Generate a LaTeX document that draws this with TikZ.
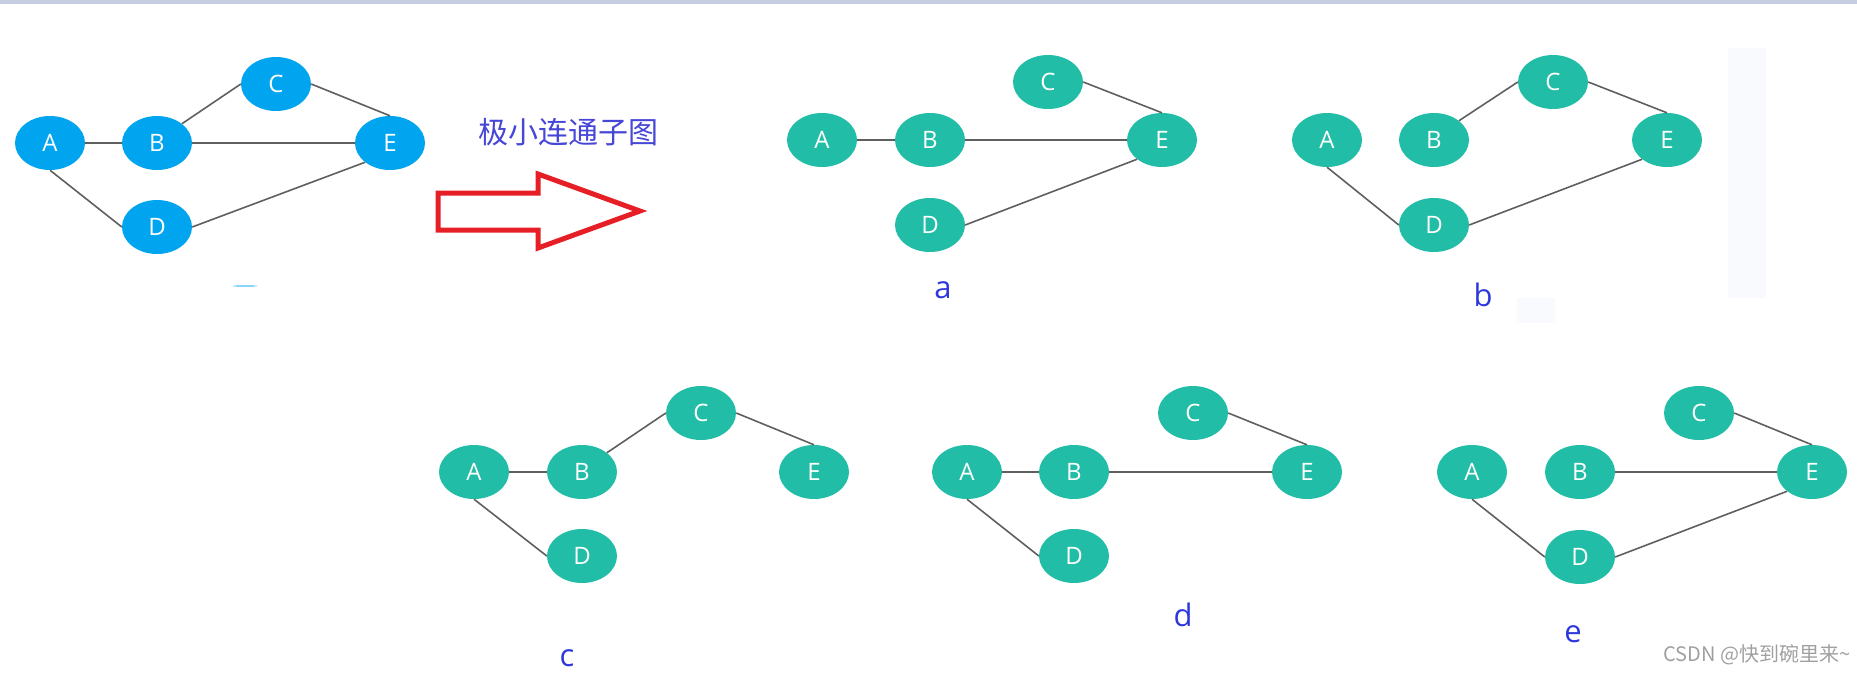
\documentclass[tikz,border=0pt]{standalone}
\usepackage{fontspec}
\setmainfont{Open Sans}
\newfontfamily\cjk{Noto Sans CJK SC}
\usetikzlibrary{shapes.geometric}

\begin{document}
\begin{tikzpicture}[x=1pt,y=-1pt,
    	 blue node/.style={ellipse,fill=skyblue,minimum width=70pt,minimum height=54pt,inner sep=0pt,text=white,font=\fontsize{24}{24}\selectfont},
    	 green node/.style={blue node,fill=tealgreen},
    	 sub label/.style={anchor=base,text=labelblue,font=\fontsize{31}{31}\selectfont},
    	 every edge/.style={draw=linegray,line width=1.6pt}]

	\definecolor{skyblue}{RGB}{0,164,239}
	\definecolor{tealgreen}{RGB}{34,189,166}
	\definecolor{linegray}{RGB}{95,95,95}
	\definecolor{labelblue}{RGB}{45,55,220}
	\definecolor{titleblue}{RGB}{70,70,215}
	\definecolor{arrowred}{RGB}{230,30,38}
	\definecolor{bandgray}{RGB}{196,206,224}
	\definecolor{palebg}{RGB}{248,250,253}
	\definecolor{markgray}{RGB}{160,160,160}

	\useasboundingbox (0,0) rectangle (1857,672);
	\fill[bandgray] (0,0) rectangle (1857,4);
	\fill[palebg] (1728,48) rectangle (1766,298);
	\fill[palebg] (1517,298) rectangle (1555,323);
	\fill[skyblue!70] (245,286) ellipse (12.5 and 0.7);

	% original graph
  	\draw (50,143)  node[blue node] (A) {A};
	\draw (157,143) node[blue node] (B) {B};
	\draw (276,84)  node[blue node] (C) {C};
	\draw (390,143) node[blue node] (E) {E};
	\draw (157,227) node[blue node] (D) {D};

	\path (A) edge (B)
	      (B) edge (E)
	      (B.north east) edge (C.west)
	      (C.east) edge (E.north)
	      (A.south) edge (D.west)
	      (D.east) edge (E.south west);

	\node[text=titleblue,font=\cjk\fontsize{30}{30}\selectfont] (title) at (568,132) {极小连通子图};
	\draw[arrowred,line width=5pt,line join=miter] (438,193) -- (538,193) -- (538,174) -- (640,211)
	    -- (538,248) -- (538,230) -- (438,230) -- cycle;

	% a
	\draw (822,140)  node[green node] (aA) {A};
	\draw (930,140)  node[green node] (aB) {B};
	\draw (1048,82)  node[green node] (aC) {C};
	\draw (1162,140) node[green node] (aE) {E};
	\draw (930,225)  node[green node] (aD) {D};
	\path (aA) edge (aB)
	      (aB) edge (aE)
	      (aC.east) edge (aE.north)
	      (aD.east) edge (aE.south west);
	\node[sub label] (la) at (943,298) {a};

	% b
	\draw (1327,140) node[green node] (bA) {A};
	\draw (1434,140) node[green node] (bB) {B};
	\draw (1553,82)  node[green node] (bC) {C};
	\draw (1667,140) node[green node] (bE) {E};
	\draw (1434,225) node[green node] (bD) {D};
	\path (bB.north east) edge (bC.west)
	      (bC.east) edge (bE.north)
	      (bA.south) edge (bD.west)
	      (bD.east) edge (bE.south west);
	\node[sub label] (lb) at (1483,306) {b};

	% c
	\draw (474,472) node[green node] (cA) {A};
	\draw (582,472) node[green node] (cB) {B};
	\draw (701,413) node[green node] (cC) {C};
	\draw (814,472) node[green node] (cE) {E};
	\draw (582,556) node[green node] (cD) {D};
	\path (cA) edge (cB)
	      (cB.north east) edge (cC.west)
	      (cC.east) edge (cE.north)
	      (cA.south) edge (cD.west);
	\node[sub label] (lc) at (567,666) {c};

	% d
	\draw (967,472)  node[green node] (dA) {A};
	\draw (1074,472) node[green node] (dB) {B};
	\draw (1193,413) node[green node] (dC) {C};
	\draw (1307,472) node[green node] (dE) {E};
	\draw (1074,556) node[green node] (dD) {D};
	\path (dA) edge (dB)
	      (dB) edge (dE)
	      (dC.east) edge (dE.north)
	      (dA.south) edge (dD.west);
	\node[sub label] (ld) at (1183,626) {d};

	% e
	\draw (1472,472) node[green node] (eA) {A};
	\draw (1580,472) node[green node] (eB) {B};
	\draw (1699,413) node[green node] (eC) {C};
	\draw (1812,472) node[green node] (eE) {E};
	\draw (1580,557) node[green node] (eD) {D};
	\path (eB) edge (eE)
	      (eC.east) edge (eE.north)
	      (eA.south) edge (eD.west)
	      (eD.east) edge (eE.south west);
	\node[sub label] (le) at (1573,642) {e};

	\node[anchor=base west,text=markgray,font=\cjk\fontsize{20}{20}\selectfont] (mark) at (1660,661) {CSDN @快到碗里来\textasciitilde};

	\end{tikzpicture}
\end{document}
